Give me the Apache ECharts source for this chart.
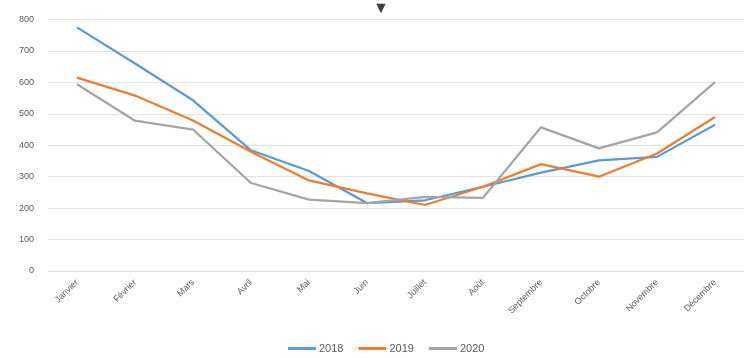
<!DOCTYPE html>
<html>
<head>
<meta charset="utf-8">
<script src="https://cdn.jsdelivr.net/npm/echarts@6/dist/echarts.min.js"></script>
<style>
  html, body { margin: 0; padding: 0; background: #fff; }
  #chart { width: 744px; height: 358px; }
</style>
</head>
<body>
<div id="chart"></div>
<script>
var mois = ['Janvier', 'Février', 'Mars', 'Avril', 'Mai', 'Juin', 'Juillet', 'Août',
    'Septembre', 'Octobre', 'Novembre', 'Décembre'];

var val2018 = [775, 660, 543, 384, 318, 216, 225, 268, 313, 352, 363, 465];
var val2019 = [615, 558, 479, 379, 288, 247, 210, 268, 340, 300, 374, 490];
var val2020 = [594, 478, 450, 280, 227, 216, 236, 233, 457, 390, 441, 601];

var annees = ['2018', '2019', '2020'];
var couleurs = ['#5B9BD5', '#ED7D31', '#A5A5A5'];

const serie = (nom, data, couleur) => {
    return {
        name: nom,
        type: 'line',
        data: data,
        symbol: 'none',
        color: couleur,
        lineStyle: { width: 2.25, color: couleur }
    };
};

const initChart = () => {
    const chart = echarts.init(document.getElementById('chart'));
    chart.setOption({
        animation: false,
        textStyle: { fontFamily: 'Liberation Sans' },
        graphic: [
            {
                type: 'text',
                left: 373,
                top: 1,
                style: { text: '▼', fontSize: 16, fill: '#404040' }
            }
        ],
        grid: { left: 48, right: -5, top: 19.5, bottom: 87 },
        legend: {
            bottom: -1,
            left: 283,
            itemWidth: 28,
            itemHeight: 3,
            itemGap: 15,
            icon: 'rect',
            textStyle: { color: '#595959', fontSize: 11, padding: [0, 0, 0, -2] },
            data: annees
        },
        xAxis: {
            type: 'category',
            data: mois,
            boundaryGap: true,
            axisLine: { show: true, lineStyle: { color: '#D9D9D9' } },
            axisTick: { show: false },
            axisLabel: { rotate: 45, color: '#595959', fontSize: 9, margin: 10 }
        },
        yAxis: {
            type: 'value',
            min: 0,
            max: 800,
            interval: 100,
            axisLine: { show: false },
            axisTick: { show: false },
            axisLabel: { color: '#595959', fontSize: 9, margin: 14 },
            splitLine: { lineStyle: { color: '#E3E3E3' } }
        },
        series: [
            serie(annees[0], val2018, couleurs[0]),
            serie(annees[1], val2019, couleurs[1]),
            serie(annees[2], val2020, couleurs[2])
        ]
    });
};

window.addEventListener('load', () => {
    initChart();
});
</script>
</body>
</html>
